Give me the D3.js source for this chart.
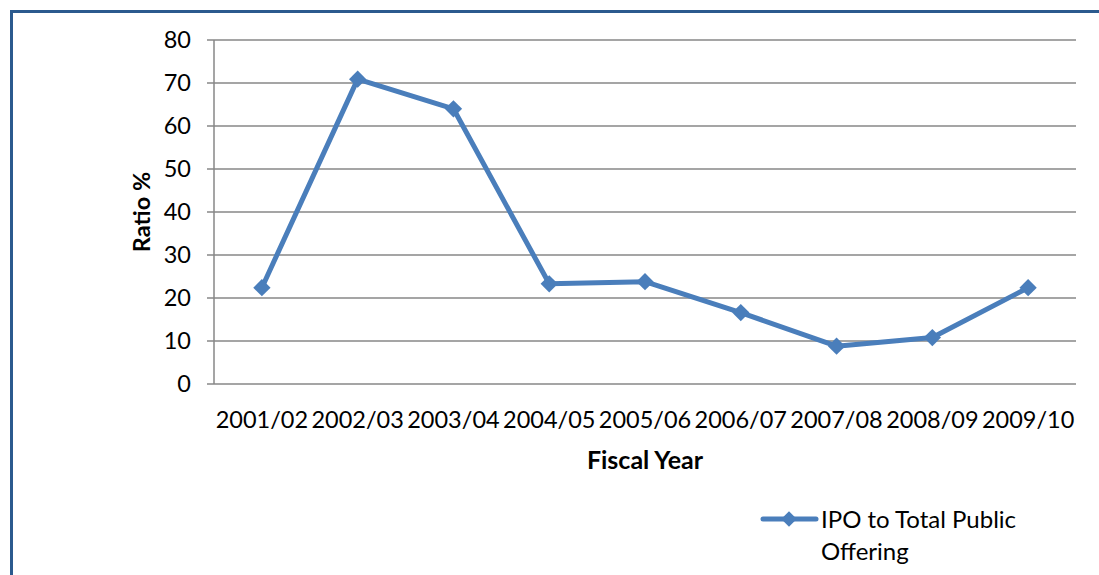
<!DOCTYPE html>
<html>
<head>
<meta charset="utf-8">
<script src="https://cdn.jsdelivr.net/npm/d3@7"></script>
<style>
  html, body { margin: 0; padding: 0; background: #fff; }
  svg { display: block; font-family: Lato, "Open Sans", sans-serif; }
</style>
</head>
<body>
<svg id="chart" width="1099" height="575"></svg>
<script>
// Fiscal years and IPO share of total public offering (%)
const years = ["2001/02", "2002/03", "2003/04", "2004/05", "2005/06", "2006/07", "2007/08", "2008/09", "2009/10"];
const ratios = [22.4, 70.9, 64.0, 23.3, 23.8, 16.6, 8.8, 10.8, 22.4];
const yTicks = [0, 10, 20, 30, 40, 50, 60, 70, 80];
const seriesName = ["IPO to Total Public", "Offering"];

const svg = d3.select("#chart");
const color = "#4a7ebb";
const grid = "#878787";

// Frame around the chart
svg.append("rect")
  .attr("x", 11.5).attr("y", 11.5)
  .attr("width", 1110).attr("height", 600)
  .attr("fill", "none")
  .attr("stroke", "#2b5a8e")
  .attr("stroke-width", 3);

const plotLeft = 214, plotRight = 1076, plotTop = 40, plotBottom = 384;

const x = d3.scaleBand().domain(years).range([plotLeft, plotRight]);
const y = d3.scaleLinear().domain([0, 80]).range([plotBottom, plotTop]);
const cx = d => x(d) + x.bandwidth() / 2;

// Horizontal gridlines with short ticks to the left of the axis
const gy = svg.append("g");
gy.selectAll("line.grid")
  .data(yTicks)
  .join("line")
  .attr("class", "grid")
  .attr("x1", plotLeft - 7).attr("x2", plotRight)
  .attr("y1", d => y(d)).attr("y2", d => y(d))
  .attr("stroke", grid).attr("stroke-width", 1.5);

// Vertical axis line
svg.append("line")
  .attr("x1", plotLeft).attr("x2", plotLeft)
  .attr("y1", plotTop).attr("y2", plotBottom)
  .attr("stroke", grid).attr("stroke-width", 1.5);

// Y tick labels
gy.selectAll("text")
  .data(yTicks)
  .join("text")
  .attr("x", 191)
  .attr("y", d => y(d))
  .attr("dy", "0.36em")
  .attr("text-anchor", "end")
  .attr("font-size", 23.5)
  .attr("fill", "#000")
  .text(d => d);

// X tick labels
svg.append("g").selectAll("text")
  .data(years)
  .join("text")
  .attr("x", d => cx(d))
  .attr("y", 428)
  .attr("text-anchor", "middle")
  .attr("font-size", 23.5)
  .attr("fill", "#000")
  .text(d => d);

// Axis titles
svg.append("text")
  .attr("x", 645).attr("y", 469)
  .attr("text-anchor", "middle")
  .attr("font-size", 25).attr("font-weight", "bold")
  .text("Fiscal Year");

svg.append("text")
  .attr("transform", "translate(150,212) rotate(-90)")
  .attr("text-anchor", "middle")
  .attr("font-size", 23.5).attr("font-weight", "bold")
  .text("Ratio %");

// Series line
const line = d3.line()
  .x((d, i) => cx(years[i]))
  .y(d => y(d));

svg.append("path")
  .datum(ratios)
  .attr("d", line)
  .attr("fill", "none")
  .attr("stroke", color)
  .attr("stroke-width", 5)
  .attr("stroke-linejoin", "round");

// Diamond markers
svg.append("g").selectAll("path")
  .data(ratios)
  .join("path")
  .attr("transform", (d, i) => `translate(${cx(years[i])},${y(d)}) rotate(45)`)
  .attr("d", d3.symbol().type(d3.symbolSquare).size(150))
  .attr("fill", color);

// Legend
const lg = svg.append("g");
lg.append("line")
  .attr("x1", 763).attr("x2", 816)
  .attr("y1", 519).attr("y2", 519)
  .attr("stroke", color).attr("stroke-width", 5)
  .attr("stroke-linecap", "round");
lg.append("path")
  .attr("transform", "translate(789,519) rotate(45)")
  .attr("d", d3.symbol().type(d3.symbolSquare).size(120))
  .attr("fill", color);
lg.selectAll("text")
  .data(seriesName)
  .join("text")
  .attr("x", 821)
  .attr("y", (d, i) => 528 + i * 32)
  .attr("font-size", 24)
  .attr("fill", "#000")
  .text(d => d);
</script>
</body>
</html>
